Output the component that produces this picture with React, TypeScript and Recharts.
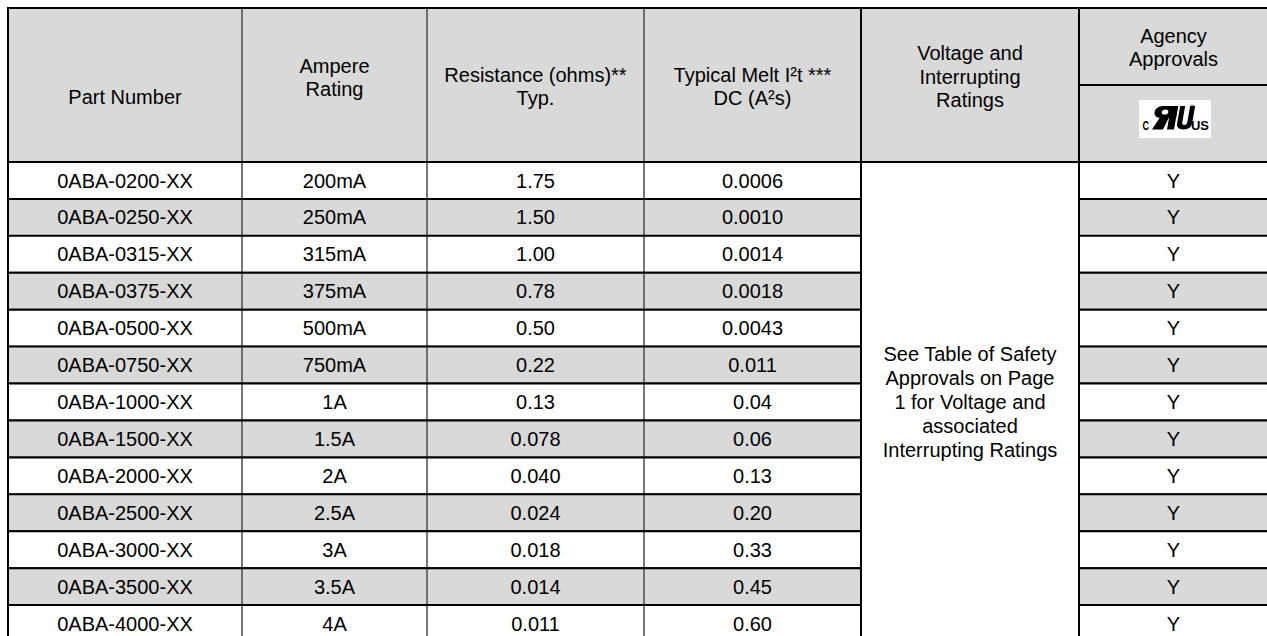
import React from 'react';
import { ComposedChart, Bar, XAxis, YAxis, Customized } from 'recharts';

// ---------- data ----------
const partNumbers = [
  '0ABA-0200-XX', '0ABA-0250-XX', '0ABA-0315-XX', '0ABA-0375-XX', '0ABA-0500-XX',
  '0ABA-0750-XX', '0ABA-1000-XX', '0ABA-1500-XX', '0ABA-2000-XX', '0ABA-2500-XX',
  '0ABA-3000-XX', '0ABA-3500-XX', '0ABA-4000-XX',
];
const ampereRatings = ['200mA', '250mA', '315mA', '375mA', '500mA', '750mA', '1A', '1.5A', '2A', '2.5A', '3A', '3.5A', '4A'];
const resistances = ['1.75', '1.50', '1.00', '0.78', '0.50', '0.22', '0.13', '0.078', '0.040', '0.024', '0.018', '0.014', '0.011'];
const meltI2t = ['0.0006', '0.0010', '0.0014', '0.0018', '0.0043', '0.011', '0.04', '0.06', '0.13', '0.20', '0.33', '0.45', '0.60'];
const ulApprovals = ['Y', 'Y', 'Y', 'Y', 'Y', 'Y', 'Y', 'Y', 'Y', 'Y', 'Y', 'Y', 'Y'];
const voltageNote = ['See Table of Safety', 'Approvals on Page', '1 for Voltage and', 'associated', 'Interrupting Ratings'];

const headerPart = ['Part Number'];
const headerAmpere = ['Ampere', 'Rating'];
const headerResistance = ['Resistance (ohms)**', 'Typ.'];
const headerMelt = ['Typical Melt I²t ***', 'DC (A²s)'];
const headerVoltage = ['Voltage and', 'Interrupting', 'Ratings'];
const headerAgency = ['Agency', 'Approvals'];

const rows = partNumbers.map((p, i) => ({
  idx: i,
  part: p,
  amp: ampereRatings[i],
  res: resistances[i],
  melt: meltI2t[i],
  ul: ulApprovals[i],
}));

// ---------- layout ----------
const W = 1267;
const H = 642;
const TOP = 8;
const HEAD_BOTTOM = 162;
const AGENCY_SPLIT = 85;
const COLS = [8, 242, 427, 644, 861, 1079, 1268];
const GRAY = '#d9d9d9';
const FONT = '"Liberation Sans", Arial, Helvetica, sans-serif';
const FS = 20;
const colCenter = (i: number) => (COLS[i] + COLS[i + 1]) / 2;
const vColor = (i: number) => (i >= 1 && i <= 3 ? '#555' : '#000');
const vWidth = (i: number) => (i >= 1 && i <= 3 ? 1.6 : 2);

const T = (props: any) => (
  <text textAnchor="middle" fontFamily={FONT} fontSize={FS} fill="#000" {...props} />
);

const RowShape = (props: any) => {
  const { y, height, payload } = props;
  const i = payload.idx;
  const top = y;
  const bot = y + height;
  const base = y + height / 2 + 7;
  const gray = i % 2 === 1;
  const vals = [payload.part, payload.amp, payload.res, payload.melt];
  return (
    <g>
      <rect x={COLS[0]} y={top} width={COLS[4] - COLS[0]} height={height} fill={gray ? GRAY : '#fff'} />
      <rect x={COLS[5]} y={top} width={COLS[6] - COLS[5]} height={height} fill={gray ? GRAY : '#fff'} />
      {vals.map((v, c) => (
        <T key={c} x={colCenter(c)} y={base}>{v}</T>
      ))}
      <T x={colCenter(5)} y={base}>{payload.ul}</T>
      {COLS.map((cx, c) => (
        <line key={'v' + c} x1={cx} x2={cx} y1={top} y2={bot} stroke={vColor(c)} strokeWidth={vWidth(c)} />
      ))}
      {[top, bot].map((ly, k) => (
        <g key={'h' + k}>
          <line x1={COLS[0] - 1} x2={COLS[4] + 1} y1={ly} y2={ly} stroke="#000" strokeWidth={2} />
          <line x1={COLS[5] - 1} x2={COLS[6]} y1={ly} y2={ly} stroke="#000" strokeWidth={2} />
        </g>
      ))}
      {i === 6 &&
        voltageNote.map((s, k) => (
          <T key={'n' + k} x={colCenter(4)} y={y + height / 2 + 7 + (k - 2) * 24}>{s}</T>
        ))}
    </g>
  );
};

const ULMark = () => (
  <g>
    <rect x={1139} y={100} width={72} height={38} fill="#fff" />
    <text x={1142.5} y={129.5} fontFamily={FONT} fontWeight="bold" fontSize={12} textLength={6.5} lengthAdjust="spacingAndGlyphs" fill="#000">C</text>
    <g transform="translate(0,129.5) skewX(-10) translate(0,-129.5)" fill="#000">
      {/* backward R */}
      <path d="M1159,106 H1174 V118 H1159 C1149,118 1149,106 1159,106 Z" />
      <ellipse cx={1162} cy={112} rx={3.2} ry={2.6} fill="#fff" />
      <rect x={1167} y={106} width={7} height={23.5} />
      <path d="M1158,117 H1167 L1163,129.5 H1152 Z" />
      {/* U */}
      <path d="M1176,106 H1181 V122 Q1181,125 1183.5,125 Q1186,125 1186,122 V106 H1191 V123 Q1191,129.5 1183.5,129.5 Q1176,129.5 1176,123 Z" />
    </g>
    <text x={1191} y={129.5} fontFamily={FONT} fontWeight="bold" fontSize={12} textLength={18} lengthAdjust="spacingAndGlyphs" fill="#000">US</text>
    <text x={1190} y={109} fontFamily={FONT} fontSize={6} fill="#000">®</text>
  </g>
);

const Header = () => {
  const lineTexts = (lines: string[], cx: number, baselines: number[]) =>
    lines.map((s, k) => (
      <T key={s} x={cx} y={baselines[k]}>{s}</T>
    ));
  return (
    <g>
      <rect x={COLS[0]} y={TOP} width={COLS[6] - COLS[0]} height={HEAD_BOTTOM - TOP} fill={GRAY} />
      {lineTexts(headerPart, colCenter(0), [104])}
      {lineTexts(headerAmpere, colCenter(1), [73, 96])}
      {lineTexts(headerResistance, colCenter(2), [82, 105])}
      {lineTexts(headerMelt, colCenter(3), [82, 105])}
      {lineTexts(headerVoltage, colCenter(4), [60, 83.5, 107])}
      {lineTexts(headerAgency, colCenter(5), [43, 66])}
      <ULMark />
      {COLS.map((cx, c) => (
        <line key={c} x1={cx} x2={cx} y1={TOP} y2={HEAD_BOTTOM} stroke={vColor(c)} strokeWidth={vWidth(c)} />
      ))}
      <line x1={COLS[0] - 1} x2={COLS[6]} y1={TOP} y2={TOP} stroke="#000" strokeWidth={2} />
      <line x1={COLS[5]} x2={COLS[6]} y1={AGENCY_SPLIT} y2={AGENCY_SPLIT} stroke="#000" strokeWidth={2} />
      <line x1={COLS[0] - 1} x2={COLS[6]} y1={HEAD_BOTTOM} y2={HEAD_BOTTOM} stroke="#000" strokeWidth={2} />
    </g>
  );
};

export default function App() {
  return (
    <div style={{ position: 'absolute', left: 0, top: 0, width: W, height: 636, overflow: 'hidden', background: '#fff' }}>
      <ComposedChart
        width={W}
        height={H}
        data={rows}
        layout="vertical"
        margin={{ top: HEAD_BOTTOM, right: 0, bottom: 0, left: COLS[0] }}
        barCategoryGap={0}
        barGap={0}
      >
        <XAxis type="number" domain={[0, 1]} hide />
        <YAxis type="category" dataKey="part" hide />
        <Customized component={Header} />
        <Bar dataKey={() => 1} isAnimationActive={false} shape={RowShape} />
      </ComposedChart>
    </div>
  );
}
